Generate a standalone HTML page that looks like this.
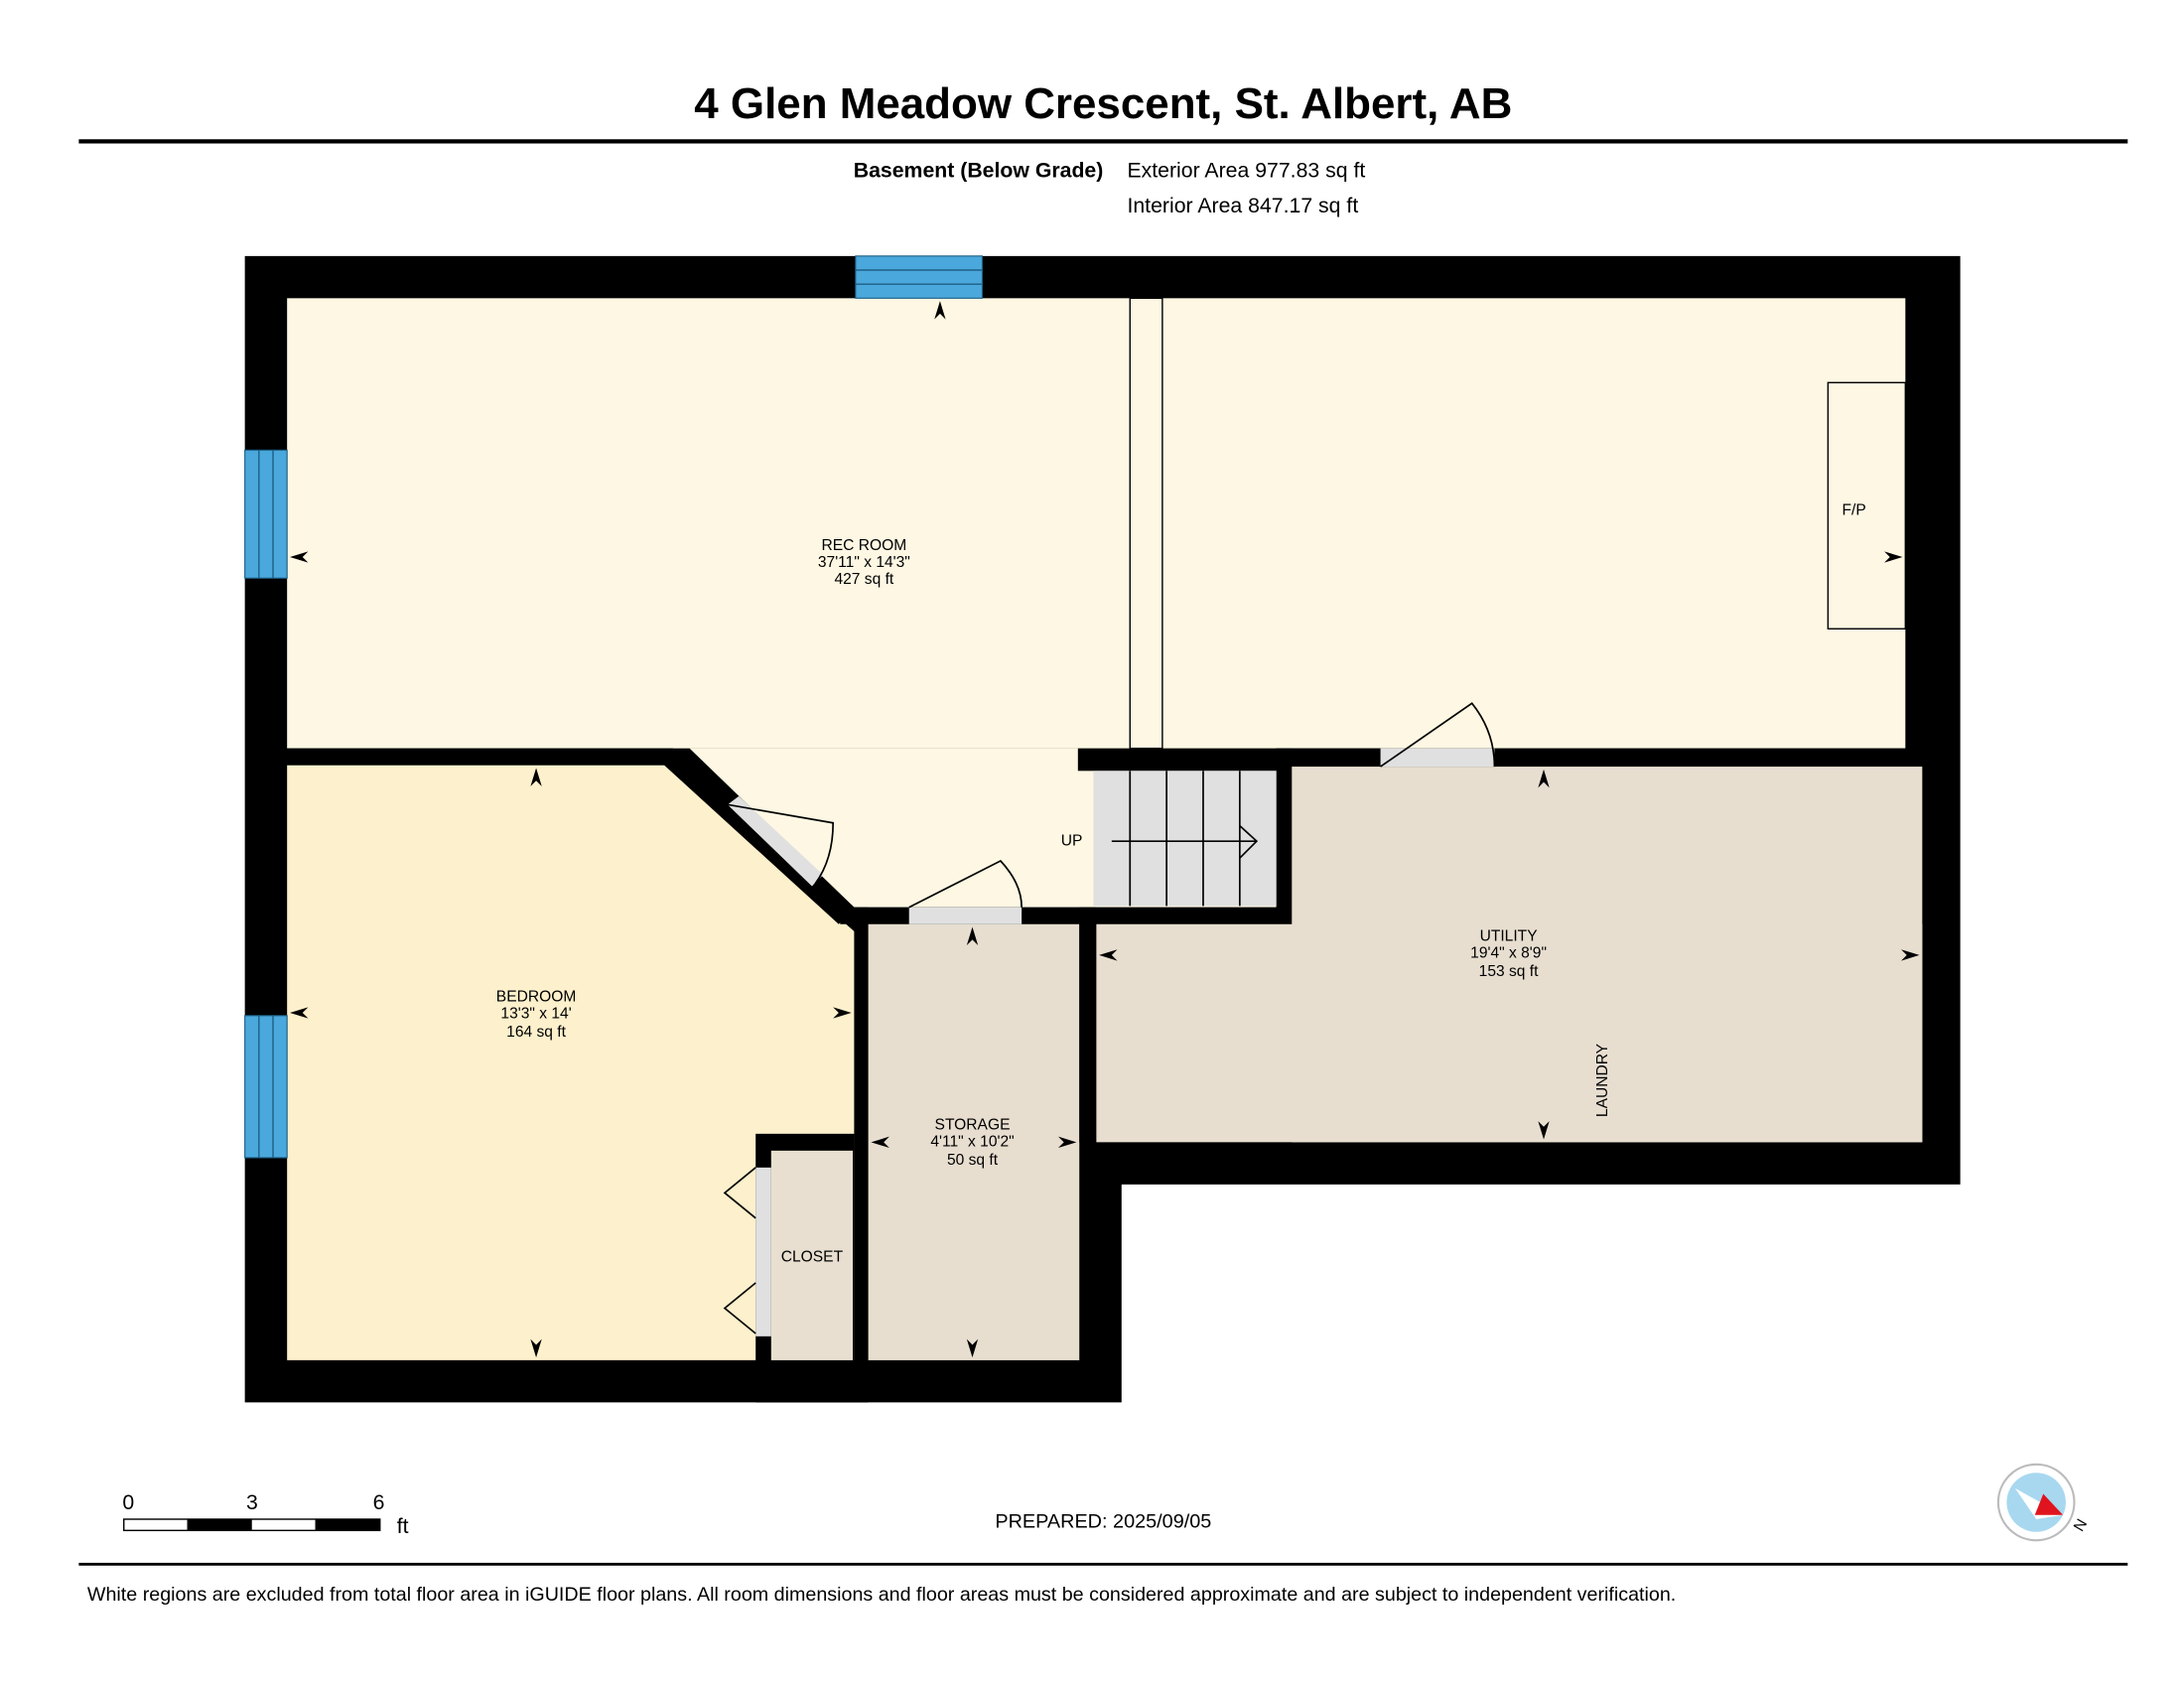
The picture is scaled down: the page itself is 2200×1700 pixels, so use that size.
<!DOCTYPE html>
<html><head><style>html,body{margin:0;padding:0;background:#fff}svg{display:block}</style></head>
<body>
<svg width="2200" height="1700" viewBox="0 0 1552 1200" preserveAspectRatio="none" xmlns="http://www.w3.org/2000/svg" font-family="Liberation Sans, sans-serif">
<rect width="1552" height="1200" fill="#fff"/>
<text x="784" y="84" font-size="31" font-weight="bold" text-anchor="middle">4 Glen Meadow Crescent, St. Albert, AB</text>
<rect x="56" y="99" width="1456" height="3" fill="#000"/>
<text x="784" y="126" font-size="15" font-weight="bold" text-anchor="end">Basement (Below Grade)</text>
<text x="801" y="126" font-size="15">Exterior Area 977.83 sq ft</text>
<text x="801" y="151" font-size="15">Interior Area 847.17 sq ft</text>
<polygon points="174,182 1393,182 1393,842 797,842 797,997 174,997" fill="#000"/>
<rect x="204" y="212" width="1150" height="320" fill="#fdf7e3"/>
<polygon points="490,532 907,532 907,645 607,645" fill="#fdf7e3"/>
<polygon points="204,544 474,544 517,583 607,662 607,967 204,967" fill="#fdf0cc"/>
<polygon points="204,532 478,532 607,645 607,662 474,544 204,544" fill="#000"/>
<polygon points="478,532 607,645 596,657 472,544" fill="#000"/>
<rect x="597" y="645" width="321" height="12" fill="#000"/>
<rect x="607" y="645" width="10" height="352" fill="#000"/>
<rect x="537" y="806" width="70" height="191" fill="#000"/>
<rect x="548" y="818" width="58" height="149" fill="#e8dfd0"/>
<rect x="537" y="830" width="11" height="120" fill="#e0e0e0"/>
<rect x="617" y="657" width="150" height="310" fill="#e7ded0"/>
<rect x="766" y="532" width="600" height="16" fill="#000"/>
<rect x="907" y="532" width="11" height="125" fill="#000"/>
<rect x="918" y="545" width="448" height="267" fill="#e7ded0"/>
<rect x="779" y="657" width="587" height="155" fill="#e7ded0"/>
<rect x="767" y="645" width="12" height="167" fill="#000"/>
<rect x="777" y="548" width="130" height="96" fill="#e0e0e0"/>
<g stroke="#000" stroke-width="1.2"><line x1="803" y1="548" x2="803" y2="644"/><line x1="829" y1="548" x2="829" y2="644"/><line x1="855" y1="548" x2="855" y2="644"/><line x1="881" y1="548" x2="881" y2="644"/>
<line x1="790" y1="598" x2="893" y2="598"/><polyline points="881,587 893,598 881,610" fill="none"/></g>
<text x="754" y="601" font-size="11">UP</text>
<rect x="981" y="532" width="81" height="13" fill="#e0e0e0"/>
<path d="M981,545 L1046,500 Q1062,520 1062,545" fill="none" stroke="#000" stroke-width="1.2"/>
<rect x="646" y="645" width="80" height="12" fill="#e0e0e0"/>
<path d="M646,645 L711,612 Q726,628 726,645" fill="none" stroke="#000" stroke-width="1.2"/>
<polygon points="517,572 525,566 585,622 577,630" fill="#e0e0e0"/>
<path d="M517,572 L592,585 Q592,612 578,630" fill="none" stroke="#000" stroke-width="1.2"/>
<g stroke="#000" stroke-width="1.2" fill="none"><polyline points="537,830 515,848 537,866"/><polyline points="537,912 515,930 537,948"/></g>
<rect x="803" y="212" width="23" height="320" fill="#fdf7e3" stroke="#000" stroke-width="1"/>
<rect x="1299" y="272" width="55" height="175" fill="#fdf7e3" stroke="#000" stroke-width="1"/>
<text x="1309" y="366" font-size="11">F/P</text>
<g fill="#4aa8dc" stroke="#1f5f85" stroke-width="0.8"><rect x="608" y="182" width="90" height="30"/><rect x="174" y="320" width="30" height="91"/><rect x="174" y="722" width="30" height="101"/></g>
<g stroke="#1f5f85" stroke-width="1"><line x1="608" y1="192" x2="698" y2="192"/><line x1="608" y1="202" x2="698" y2="202"/><line x1="184" y1="320" x2="184" y2="411"/><line x1="194" y1="320" x2="194" y2="411"/><line x1="184" y1="722" x2="184" y2="823"/><line x1="194" y1="722" x2="194" y2="823"/></g>
<g font-size="11" text-anchor="middle">
<text x="614" y="391">REC ROOM</text><text x="614" y="403">37'11" x 14'3"</text><text x="614" y="415">427 sq ft</text>
<text x="381" y="712">BEDROOM</text><text x="381" y="724">13'3" x 14'</text><text x="381" y="737">164 sq ft</text>
<text x="691" y="803">STORAGE</text><text x="691" y="815">4'11" x 10'2"</text><text x="691" y="828">50 sq ft</text>
<text x="1072" y="669">UTILITY</text><text x="1072" y="681">19'4" x 8'9"</text><text x="1072" y="694">153 sq ft</text>
<text x="577" y="897">CLOSET</text>
<text x="1142" y="768" transform="rotate(-90 1142 768)">LAUNDRY</text>
</g>
<g fill="#000">
<polygon points="668,214 664,227 668,223 672,227"/>
<polygon points="206,396 219,392 215,396 219,400"/>
<polygon points="1352,396 1339,392 1343,396 1339,400"/>
<polygon points="381,546 377,559 381,555 385,559"/>
<polygon points="381,965 377,952 381,956 385,952"/>
<polygon points="206,720 219,716 215,720 219,724"/>
<polygon points="605,720 592,716 596,720 592,724"/>
<polygon points="691,659 687,672 691,668 695,672"/>
<polygon points="691,965 687,952 691,956 695,952"/>
<polygon points="619,812 632,808 628,812 632,816"/>
<polygon points="765,812 752,808 756,812 752,816"/>
<polygon points="1097,547 1093,560 1097,556 1101,560"/>
<polygon points="1097,810 1093,797 1097,801 1101,797"/>
<polygon points="781,679 794,675 790,679 794,683"/>
<polygon points="1364,679 1351,675 1355,679 1351,683"/>
</g>
<g font-size="15"><text x="87" y="1073">0</text><text x="175" y="1073">3</text><text x="265" y="1073">6</text><text x="282" y="1090">ft</text></g>
<rect x="88" y="1080" width="182" height="8" fill="#fff" stroke="#000" stroke-width="1"/>
<rect x="133" y="1080" width="46" height="8" fill="#000"/><rect x="224" y="1080" width="46" height="8" fill="#000"/>
<text x="784" y="1086" font-size="14" text-anchor="middle">PREPARED: 2025/09/05</text>
<circle cx="1447" cy="1068" r="27" fill="#fff" stroke="#bbb" stroke-width="1.5"/>
<circle cx="1447" cy="1068" r="21" fill="#a8d8f0"/>
<polygon points="1432,1058 1466,1077 1447,1080" fill="#fff"/>
<polygon points="1452,1062 1466,1077 1446,1077" fill="#e0141e"/>
<text x="1474" y="1088" font-size="11" transform="rotate(-60 1478 1084)">N</text>
<rect x="56" y="1111" width="1456" height="2" fill="#000"/>
<text x="62" y="1138" font-size="13.9">White regions are excluded from total floor area in iGUIDE floor plans. All room dimensions and floor areas must be considered approximate and are subject to independent verification.</text>
</svg>
</body></html>
